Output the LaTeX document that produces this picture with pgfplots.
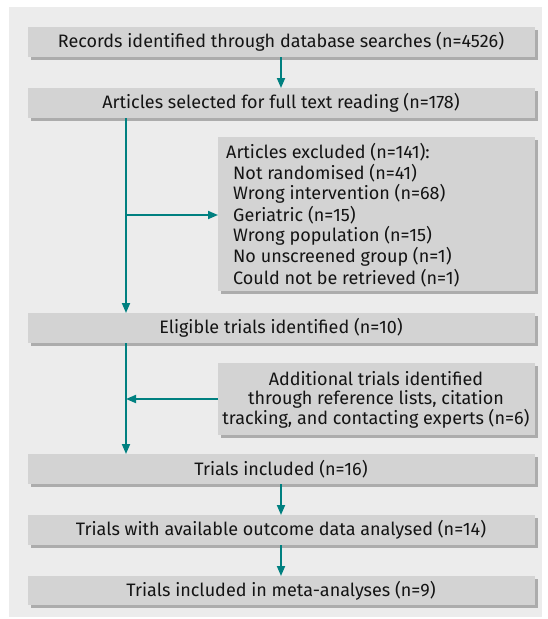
\documentclass[border=0pt]{standalone}
\usepackage{fontspec}
\setmainfont{Fira Sans}
\usepackage{pgfplots}
\pgfplotsset{compat=1.18}
\usetikzlibrary{arrows.meta}
\definecolor{panel}{RGB}{236,236,236}
\definecolor{boxgray}{RGB}{211,211,211}
\definecolor{shadow}{RGB}{172,172,172}
\definecolor{flow}{RGB}{0,128,128}
\definecolor{ink}{RGB}{20,20,20}
\tikzset{
  arr/.style={flow, line width=1.8pt, -{Triangle[length=10pt,width=8pt]}},
  txt/.style={font=\fontsize{18}{20}\selectfont, text=ink, inner sep=0pt},
}

\begin{document}
\begin{tikzpicture}
\begin{axis}[
  width=547pt, height=619pt, scale only axis,
  xmin=0, xmax=547, ymin=0, ymax=619, y dir=reverse,
  hide axis, clip=false,
]
  % full page extent
  \addplot[draw=none, forget plot] coordinates {(0,0)(547,619)};
  % panel background
  \addplot[fill=panel, draw=none] coordinates {(9,7)(542,7)(542,617)(9,617)};

  % shadows (offset 3px)
  \foreach \ya/\yb in {27/57, 88/118, 313/343, 454/484, 515/545, 576/605} {
    \edef\tmp{\noexpand\addplot[fill=shadow, draw=none] coordinates
      {(31,\the\numexpr\ya+3\relax)(538,\the\numexpr\ya+3\relax)(538,\the\numexpr\yb+3\relax)(31,\the\numexpr\yb+3\relax)};}
    \tmp
  }
  \addplot[fill=shadow, draw=none] coordinates {(221,140)(538,140)(538,294)(221,294)};
  \addplot[fill=shadow, draw=none] coordinates {(221,366)(538,366)(538,438)(221,438)};

  % boxes
  \foreach \ya/\yb in {27/57, 88/118, 313/343, 454/484, 515/545, 576/605} {
    \edef\tmp{\noexpand\addplot[fill=boxgray, draw=none] coordinates
      {(28,\ya)(535,\ya)(535,\yb)(28,\yb)};}
    \tmp
  }
  \addplot[fill=boxgray, draw=none] coordinates {(218,137)(535,137)(535,291)(218,291)};
  \addplot[fill=boxgray, draw=none] coordinates {(218,363)(535,363)(535,435)(218,435)};

  % connectors
  \addplot[arr] coordinates {(281,57)(281,88)};
  \addplot[flow, line width=1.8pt] coordinates {(126,118)(126,300)};
  \addplot[arr] coordinates {(126,290)(126,313)};
  \addplot[arr] coordinates {(126,215)(218,215)};
  \addplot[flow, line width=1.8pt] coordinates {(126,343)(126,445)};
  \addplot[arr] coordinates {(126,430)(126,454)};
  \addplot[arr] coordinates {(218,399)(126,399)};
  \addplot[arr] coordinates {(281,484)(281,515)};
  \addplot[arr] coordinates {(281,545)(281,576)};

  % text
  \node[txt] at (axis cs:281,42) {Records identified through database searches (n=4526)};
  \node[txt] at (axis cs:281,103) {Articles selected for full text reading (n=178)};
  \node[txt] at (axis cs:281,328) {Eligible trials identified (n=10)};
  \node[txt] at (axis cs:281,469) {Trials included (n=16)};
  \node[txt] at (axis cs:281,530) {Trials with available outcome data analysed (n=14)};
  \node[txt] at (axis cs:281,590.5) {Trials included in meta-analyses (n=9)};

  \node[txt, anchor=west] at (axis cs:226,152) {Articles excluded (n=141):};
  \node[txt, anchor=west] at (axis cs:233,173) {Not randomised (n=41)};
  \node[txt, anchor=west] at (axis cs:233,194) {Wrong intervention (n=68)};
  \node[txt, anchor=west] at (axis cs:233,215) {Geriatric (n=15)};
  \node[txt, anchor=west] at (axis cs:233,236) {Wrong population (n=15)};
  \node[txt, anchor=west] at (axis cs:233,257) {No unscreened group (n=1)};
  \node[txt, anchor=west] at (axis cs:233,278) {Could not be retrieved (n=1)};

  \node[txt] at (axis cs:376,379) {Additional trials identified};
  \node[txt] at (axis cs:376,399) {through reference lists, citation};
  \node[txt] at (axis cs:376,419) {tracking, and contacting experts (n=6)};
\end{axis}
\end{tikzpicture}
\end{document}
